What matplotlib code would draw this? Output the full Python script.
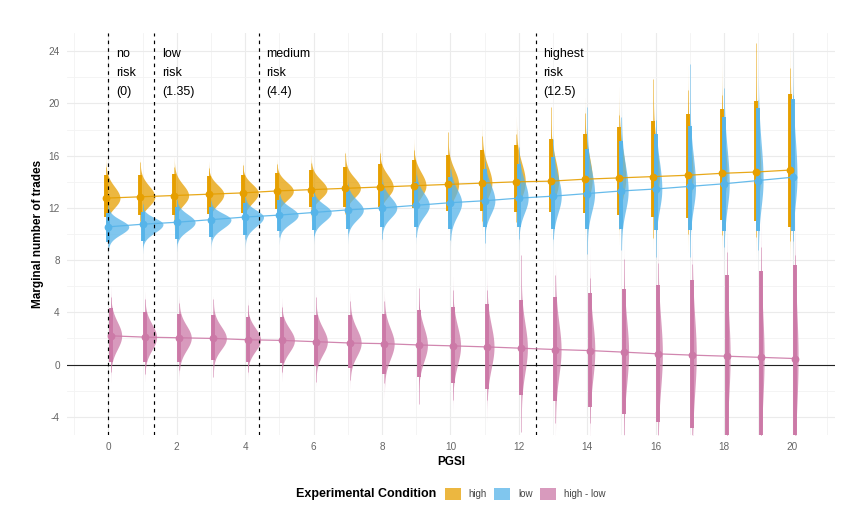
import numpy as np
import matplotlib
matplotlib.use('Agg')
import matplotlib.pyplot as plt
from matplotlib.patches import Patch
from matplotlib.ticker import MultipleLocator

plt.rcParams['font.family'] = ['Liberation Sans', 'DejaVu Sans']
plt.rcParams['axes.unicode_minus'] = False

# ---------------- data ----------------
pgsi = list(range(21))
conditions = ['high', 'low', 'high - low']

high_median = [12.75, 12.85, 12.95, 13.05, 13.15, 13.3, 13.4, 13.5, 13.6, 13.7, 13.8,
               13.9, 14.0, 14.05, 14.2, 14.3, 14.4, 14.5, 14.65, 14.75, 14.9]
high_lo95 = [11.3, 11.45, 11.45, 11.5, 11.6, 11.9, 12.05, 12.1, 12.1, 12.0, 11.8,
             11.75, 11.7, 11.65, 11.6, 11.45, 11.3, 11.2, 11.05, 11.0, 10.55]
high_hi95 = [14.5, 14.5, 14.6, 14.45, 14.5, 14.65, 14.9, 15.1, 15.4, 15.7, 16.05,
             16.4, 16.8, 17.3, 17.7, 18.2, 18.65, 19.2, 19.6, 20.2, 20.7]
high_lo99 = [10.9, 11.0, 11.0, 11.1, 11.1, 11.4, 11.5, 11.5, 11.4, 11.3, 11.1,
             11.0, 10.9, 10.7, 10.6, 10.4, 9.7, 10.0, 9.9, 9.8, 9.5]
high_hi99 = [15.15, 15.5, 15.1, 15.05, 15.3, 15.35, 15.45, 16.2, 16.2, 16.4, 17.8,
             17.5, 17.7, 19.7, 19.3, 19.1, 21.9, 21.0, 20.65, 24.6, 22.7]

low_median = [10.55, 10.75, 10.9, 11.1, 11.3, 11.45, 11.65, 11.85, 12.0, 12.2, 12.4,
              12.55, 12.75, 12.9, 13.1, 13.3, 13.45, 13.65, 13.85, 14.1, 14.35]
low_lo95 = [9.4, 9.5, 9.65, 9.8, 9.9, 10.2, 10.3, 10.4, 10.55, 10.55, 10.4,
            10.55, 10.55, 10.4, 10.4, 10.35, 10.3, 10.3, 10.25, 10.2, 10.25]
low_hi95 = [11.6, 11.7, 12.1, 12.05, 12.35, 12.6, 12.85, 13.3, 13.6, 14.0, 14.4,
            14.95, 15.4, 15.9, 16.55, 17.1, 17.65, 18.3, 19.0, 19.65, 20.35]
low_lo99 = [9.0, 9.3, 9.3, 9.6, 9.65, 9.75, 9.9, 10.05, 9.65, 9.8, 9.55,
            9.3, 9.65, 9.65, 8.5, 8.75, 8.25, 8.25, 9.0, 8.75, 9.5]
low_hi99 = [12.2, 12.3, 12.6, 12.5, 12.8, 13.0, 13.3, 13.8, 14.0, 14.5, 15.0,
            15.5, 16.7, 17.3, 19.7, 19.0, 18.7, 23.0, 21.15, 20.3, 20.65]

diff_median = [2.2, 2.1, 2.05, 2.0, 1.9, 1.85, 1.75, 1.65, 1.6, 1.5, 1.43,
               1.35, 1.25, 1.15, 1.07, 0.95, 0.82, 0.72, 0.64, 0.55, 0.46]
diff_lo95 = [0.2, 0.2, 0.2, 0.35, 0.2, 0.1, -0.15, -0.3, -0.7, -0.95, -1.4,
             -1.85, -2.35, -2.8, -3.25, -3.8, -4.4, -4.9, -5.6, -6.1, -6.6]
diff_hi95 = [4.3, 4.05, 3.9, 3.8, 3.65, 3.65, 3.8, 3.8, 3.9, 4.15, 4.4,
             4.6, 4.95, 5.2, 5.5, 5.75, 6.1, 6.45, 6.85, 7.2, 7.6]
diff_lo99 = [-0.55, -0.7, -0.45, -0.95, -0.6, -0.6, -1.35, -1.2, -1.45, -3.0, -2.7,
             -2.75, -5.2, -4.5, -4.5, -5.4, -5.5, -5.6, -6.5, -7.0, -7.5]
diff_hi99 = [5.2, 5.05, 4.7, 5.05, 4.55, 4.4, 5.2, 4.9, 4.9, 5.9, 5.7,
             5.7, 8.4, 6.85, 6.6, 8.1, 7.8, 7.7, 8.6, 9.0, 8.4]

cut_points = [0, 1.35, 4.4, 12.5]
cut_labels = ['no\nrisk\n(0)', 'low\nrisk\n(1.35)', 'medium\nrisk\n(4.4)', 'highest\nrisk\n(12.5)']

y_ticks = [-4, 0, 4, 8, 12, 16, 20, 24]
x_ticks = [0, 2, 4, 6, 8, 10, 12, 14, 16, 18, 20]

# ---------------- style ----------------
colors = ['#E69F00', '#56B4E9', '#CC79A7']
dodge = [-0.07, 0.0, 0.07]
slab_scale = 0.84
slab_alpha = 0.75

series = [
    (high_median, high_lo95, high_hi95, high_lo99, high_hi99),
    (low_median, low_lo95, low_hi95, low_lo99, low_hi99),
    (diff_median, diff_lo95, diff_hi95, diff_lo99, diff_hi99),
]

fig = plt.figure(figsize=(8.52, 5.15), dpi=100)
ax = fig.add_axes([0.0783, 0.1553, 0.9017, 0.7806])
ax.set_xlim(-1.216, 21.24)
ax.set_ylim(-5.4, 25.4)

ax.set_xticks(x_ticks)
ax.set_yticks(y_ticks)
ax.xaxis.set_minor_locator(MultipleLocator(1))
ax.yaxis.set_minor_locator(MultipleLocator(2))
ax.set_axisbelow(True)
ax.grid(which='major', color='#EBEBEB', lw=0.8)
ax.grid(which='minor', color='#F3F3F3', lw=0.6)
for s in ax.spines.values():
    s.set_visible(False)
ax.tick_params(which='both', length=0)
ax.tick_params(labelsize=7.2, labelcolor='#666666', pad=5)

ax.axhline(0, color='#222222', lw=0.8, zorder=1.5)

x_arr = np.array(pgsi, dtype=float)
# slabs
for j, (med, lo95, hi95, lo99, hi99) in enumerate(series):
    c = colors[j]
    for i in range(len(pgsi)):
        m, lo, hi = med[i], lo95[i], hi95[i]
        sl = (m - lo) / 1.96
        sh = (hi - m) / 1.96
        y = np.concatenate([np.linspace(m - 3.5 * sl, m, 90),
                            np.linspace(m, m + 3.5 * sh, 90)[1:]])
        sd = np.where(y < m, sl, sh)
        dens = 2.0 / (np.sqrt(2 * np.pi) * (sl + sh)) * np.exp(-0.5 * ((y - m) / sd) ** 2)
        x0 = x_arr[i] + dodge[j]
        ax.fill_betweenx(y, x0, x0 + slab_scale * dens, color=c, alpha=slab_alpha,
                         lw=0, zorder=2)

# intervals
for j, (med, lo95, hi95, lo99, hi99) in enumerate(series):
    c = colors[j]
    xs = x_arr + dodge[j]
    ax.vlines(xs, lo99, hi99, color=c, lw=0.7, alpha=0.5, zorder=3)
    ax.vlines(xs, lo95, hi95, color=c, lw=2.8, zorder=3)

# dashed thresholds
for xv in cut_points:
    ax.axvline(xv, color='black', lw=0.85, ls=(0, (3, 3.5)), zorder=3.5)

# medians and lines
for j, (med, lo95, hi95, lo99, hi99) in enumerate(series):
    c = colors[j]
    xs = x_arr + dodge[j]
    ax.plot(xs, med, color=c, lw=0.9, alpha=0.9, zorder=4)
    ax.plot(xs, med, 'o', ms=5.6, color=c, mec='none', zorder=5)

for xv, lab in zip(cut_points, cut_labels):
    ax.text(xv + 0.22, 24.25, lab, ha='left', va='top', fontsize=9,
            linespacing=1.8, color='black', zorder=6)

ax.set_xlabel('PGSI', fontsize=8.5, fontweight='bold', labelpad=3)
ax.set_ylabel('Marginal number of trades', fontsize=8.5, fontweight='bold', labelpad=3)

handles = [Patch(facecolor=c, alpha=slab_alpha, edgecolor='none') for c in colors]
leg = fig.legend(handles, conditions, loc='center left',
                 bbox_to_anchor=(445 / 852, 1 - 494 / 515), ncol=3, frameon=False,
                 fontsize=7, handlelength=1.65, handleheight=1.65, handletextpad=0.8,
                 columnspacing=0.75, borderpad=0, borderaxespad=0)
for t in leg.get_texts():
    t.set_color('#444444')
fig.text(436 / 852, 1 - 494 / 515, 'Experimental Condition', ha='right', va='center',
         fontsize=9, fontweight='bold')

fig.savefig('out.png', dpi=100)
